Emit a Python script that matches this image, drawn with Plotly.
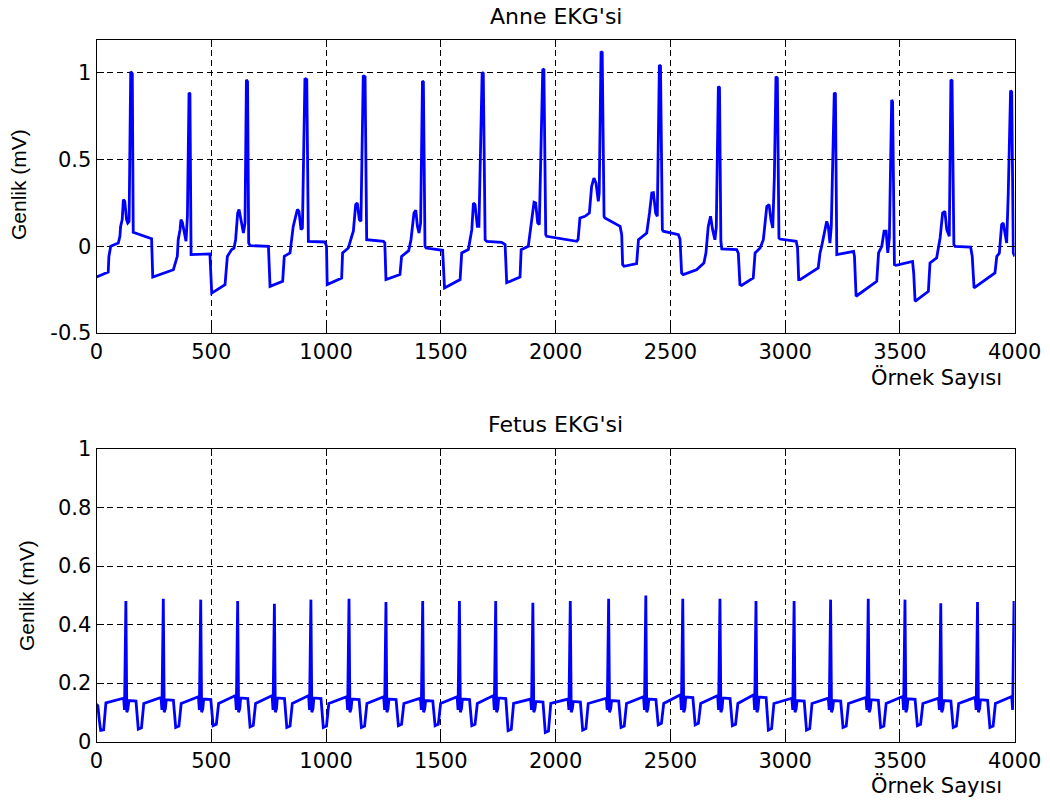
import plotly.graph_objects as go

# Maternal ECG: sample index / amplitude (mV) of the polyline vertices
anne_n = [
    0, 51, 54, 62, 95, 102, 105, 112, 117, 123, 131, 136, 142, 146, 149, 156, 158, 160,
    240, 245, 335, 342, 352, 356, 364, 368, 374, 383, 390, 396, 403, 407, 412,
    494, 502, 560, 564, 570, 589, 599, 606, 615, 621, 628, 640, 647, 653, 658, 663, 669,
    749, 756, 811, 818, 843, 857, 875, 882, 891, 897, 908, 916, 923,
    995, 1002, 1005, 1068, 1072, 1097, 1112, 1119, 1129, 1136, 1145, 1152, 1162, 1170, 1177,
    1250, 1256, 1261, 1322, 1329, 1360, 1370, 1383, 1391, 1398, 1405, 1412, 1420, 1424, 1431, 1436,
    1508, 1516, 1584, 1591, 1620, 1635, 1642, 1649, 1659, 1666, 1680, 1685, 1693, 1700,
    1765, 1780, 1787, 1845, 1850, 1881, 1893, 1906, 1913, 1922, 1929, 1944, 1949, 1957, 1961,
    2092, 2098, 2106, 2128, 2147, 2157, 2167, 2176, 2186, 2190, 2198, 2203, 2211, 2215,
    2281, 2288, 2292, 2298, 2353, 2361, 2397, 2409, 2419, 2426, 2436, 2443, 2452, 2457, 2465, 2469,
    2535, 2542, 2549, 2556, 2614, 2646, 2655, 2665, 2675, 2684, 2694, 2700, 2709, 2714, 2720, 2724,
    2789, 2796, 2803, 2810, 2861, 2869, 2891, 2905, 2920, 2930, 2938, 2946, 2953, 2960, 2966, 2973, 2977,
    3048, 3054, 3059, 3065, 3144, 3152, 3159, 3181, 3188, 3195, 3201, 3214, 3219, 3225,
    3298, 3302, 3309, 3399, 3407, 3421, 3431, 3440, 3447, 3454, 3464, 3468, 3476, 3483,
    3555, 3560, 3566, 3624, 3631, 3660, 3675, 3686, 3696, 3704, 3715, 3722, 3727, 3735, 3740,
    3808, 3815, 3823, 3914, 3922, 3933, 3943, 3950, 3957, 3965, 3972, 3982, 3987, 3994, 4000,
]
anne_mv = [
    -0.177, -0.148, -0.058, 0.000, 0.019, 0.058, 0.115, 0.154, 0.270, 0.260, 0.154, 0.135, 0.144, 0.520, 1.007, 0.995, 0.087, 0.081,
    0.044, -0.177, -0.135, -0.096, -0.058, 0.038, 0.096, 0.154, 0.138, 0.077, 0.029, 0.173, 0.886, 0.880, -0.048,
    -0.044, -0.270, -0.221, -0.135, -0.058, -0.019, -0.010, 0.038, 0.192, 0.212, 0.154, 0.077, 0.135, 0.960, 0.950, 0.019, 0.004,
    0.000, -0.231, -0.202, -0.058, -0.038, 0.115, 0.212, 0.202, 0.096, 0.106, 0.969, 0.962, 0.029,
    0.025, 0.000, -0.221, -0.183, -0.038, -0.010, 0.058, 0.087, 0.240, 0.250, 0.154, 0.144, 0.985, 0.978, 0.038,
    0.029, 0.020, -0.192, -0.163, -0.058, -0.025, 0.038, 0.192, 0.208, 0.115, 0.077, 0.135, 0.954, 0.948, 0.000, -0.010,
    -0.023, -0.240, -0.192, -0.038, -0.019, 0.096, 0.250, 0.240, 0.115, 0.115, 1.004, 0.998, 0.038, 0.029,
    0.023, 0.010, -0.210, -0.177, -0.019, 0.000, 0.125, 0.254, 0.250, 0.135, 0.125, 1.023, 1.018, 0.067, 0.058,
    0.029, 0.040, 0.163, 0.173, 0.192, 0.346, 0.394, 0.365, 0.260, 0.308, 1.123, 1.118, 0.173, 0.163,
    0.115, 0.067, -0.106, -0.115, -0.100, 0.038, 0.077, 0.192, 0.308, 0.310, 0.192, 0.173, 1.046, 1.040, 0.096, 0.087,
    0.067, 0.040, -0.154, -0.163, -0.135, -0.096, -0.038, 0.115, 0.173, 0.096, 0.038, 0.110, 0.921, 0.915, 0.029, -0.015,
    -0.019, -0.040, -0.221, -0.225, -0.183, -0.038, -0.010, 0.038, 0.230, 0.240, 0.154, 0.106, 0.400, 0.979, 0.970, 0.048, 0.042,
    0.029, -0.010, -0.192, -0.192, -0.125, -0.038, 0.000, 0.144, 0.115, 0.019, 0.115, 0.886, 0.880, -0.048,
    -0.029, -0.058, -0.288, -0.202, -0.038, 0.000, 0.087, 0.087, -0.038, 0.048, 0.844, 0.835, -0.106, -0.110,
    -0.087, -0.154, -0.317, -0.260, -0.096, -0.067, 0.048, 0.192, 0.202, 0.096, 0.058, 0.960, 0.955, 0.010, 0.000,
    -0.004, -0.058, -0.240, -0.154, -0.058, -0.040, 0.125, 0.135, 0.077, 0.019, 0.308, 0.898, 0.890, -0.038, -0.058,
]

# Fetal ECG: sample index / amplitude (mV) of the polyline vertices
fetus_n = [
    0, 6, 12, 18, 31, 36, 41,
    118, 122, 128, 132, 137, 141, 172, 177, 182, 196, 201, 206,
    281, 285, 291, 295, 300, 304, 335, 340, 345, 359, 364, 369,
    444, 448, 454, 458, 463, 467, 498, 503, 508, 522, 527, 532,
    605, 609, 615, 619, 624, 628, 659, 664, 669, 683, 688, 693,
    765, 769, 775, 779, 784, 788, 819, 824, 829, 843, 848, 853,
    924, 928, 934, 938, 943, 947, 978, 983, 988, 1002, 1007, 1012,
    1090, 1094, 1100, 1104, 1109, 1113, 1144, 1149, 1154, 1168, 1173, 1178,
    1251, 1255, 1261, 1265, 1270, 1274, 1305, 1310, 1315, 1329, 1334, 1339,
    1411, 1415, 1421, 1425, 1430, 1434, 1465, 1470, 1475, 1489, 1494, 1499,
    1571, 1575, 1581, 1585, 1590, 1594, 1625, 1630, 1635, 1649, 1654, 1659,
    1729, 1733, 1739, 1743, 1748, 1752, 1783, 1788, 1793, 1807, 1812, 1817,
    1891, 1895, 1901, 1905, 1910, 1914, 1945, 1950, 1955, 1969, 1974, 1979,
    2054, 2058, 2064, 2068, 2073, 2077, 2108, 2113, 2118, 2132, 2137, 2142,
    2221, 2225, 2231, 2235, 2240, 2244, 2275, 2280, 2285, 2299, 2304, 2309,
    2383, 2387, 2393, 2397, 2402, 2406, 2437, 2442, 2447, 2461, 2466, 2471,
    2544, 2548, 2554, 2558, 2563, 2567, 2598, 2603, 2608, 2622, 2627, 2632,
    2706, 2710, 2716, 2720, 2725, 2729, 2760, 2765, 2770, 2784, 2789, 2794,
    2863, 2867, 2873, 2877, 2882, 2886, 2917, 2922, 2927, 2941, 2946, 2951,
    3029, 3033, 3039, 3043, 3048, 3052, 3083, 3088, 3093, 3107, 3112, 3117,
    3188, 3192, 3198, 3202, 3207, 3211, 3242, 3247, 3252, 3266, 3271, 3276,
    3352, 3356, 3362, 3366, 3371, 3375, 3406, 3411, 3416, 3430, 3435, 3440,
    3512, 3516, 3522, 3526, 3531, 3535, 3566, 3571, 3576, 3590, 3595, 3600,
    3668, 3672, 3678, 3682, 3687, 3691, 3722, 3727, 3732, 3746, 3751, 3756,
    3828, 3832, 3838, 3842, 3847, 3851, 3882, 3887, 3892, 3906, 3911, 3916,
    3987, 3991, 3997, 4000,
]
fetus_mv = [
    0.128, 0.122, 0.075, 0.038, 0.040, 0.100, 0.132,
    0.148, 0.108, 0.480, 0.100, 0.112, 0.140, 0.138, 0.095, 0.042, 0.047, 0.100, 0.130,
    0.151, 0.108, 0.488, 0.100, 0.112, 0.143, 0.141, 0.095, 0.048, 0.053, 0.100, 0.130,
    0.153, 0.108, 0.485, 0.100, 0.112, 0.145, 0.143, 0.095, 0.054, 0.059, 0.100, 0.130,
    0.157, 0.108, 0.480, 0.100, 0.112, 0.149, 0.147, 0.095, 0.050, 0.055, 0.100, 0.130,
    0.157, 0.108, 0.471, 0.100, 0.112, 0.149, 0.147, 0.095, 0.048, 0.053, 0.100, 0.130,
    0.157, 0.108, 0.485, 0.100, 0.112, 0.149, 0.147, 0.095, 0.048, 0.053, 0.100, 0.130,
    0.153, 0.108, 0.488, 0.100, 0.112, 0.145, 0.143, 0.095, 0.048, 0.053, 0.100, 0.130,
    0.153, 0.108, 0.477, 0.100, 0.112, 0.145, 0.143, 0.095, 0.054, 0.059, 0.100, 0.130,
    0.148, 0.108, 0.480, 0.100, 0.112, 0.140, 0.138, 0.095, 0.054, 0.059, 0.100, 0.130,
    0.153, 0.108, 0.480, 0.100, 0.112, 0.145, 0.143, 0.095, 0.054, 0.059, 0.100, 0.130,
    0.157, 0.108, 0.480, 0.100, 0.112, 0.149, 0.147, 0.095, 0.037, 0.042, 0.100, 0.130,
    0.145, 0.108, 0.474, 0.100, 0.112, 0.137, 0.135, 0.095, 0.031, 0.036, 0.100, 0.130,
    0.145, 0.108, 0.480, 0.100, 0.112, 0.137, 0.135, 0.095, 0.039, 0.044, 0.100, 0.130,
    0.148, 0.108, 0.488, 0.100, 0.112, 0.140, 0.138, 0.095, 0.048, 0.053, 0.100, 0.130,
    0.153, 0.108, 0.499, 0.100, 0.112, 0.145, 0.143, 0.095, 0.057, 0.062, 0.100, 0.130,
    0.160, 0.108, 0.488, 0.100, 0.112, 0.152, 0.150, 0.095, 0.057, 0.062, 0.100, 0.130,
    0.157, 0.108, 0.488, 0.100, 0.112, 0.149, 0.147, 0.095, 0.054, 0.059, 0.100, 0.130,
    0.160, 0.108, 0.480, 0.100, 0.112, 0.152, 0.150, 0.095, 0.039, 0.044, 0.100, 0.130,
    0.148, 0.108, 0.480, 0.100, 0.112, 0.140, 0.138, 0.095, 0.039, 0.044, 0.100, 0.130,
    0.148, 0.108, 0.485, 0.100, 0.112, 0.140, 0.138, 0.095, 0.048, 0.053, 0.100, 0.130,
    0.151, 0.108, 0.488, 0.100, 0.112, 0.143, 0.141, 0.095, 0.048, 0.053, 0.100, 0.130,
    0.154, 0.108, 0.485, 0.100, 0.112, 0.146, 0.144, 0.095, 0.054, 0.059, 0.100, 0.130,
    0.148, 0.108, 0.473, 0.100, 0.112, 0.140, 0.138, 0.095, 0.048, 0.053, 0.100, 0.130,
    0.151, 0.108, 0.477, 0.100, 0.112, 0.143, 0.141, 0.095, 0.048, 0.053, 0.100, 0.130,
    0.154, 0.108, 0.480, 0.340,
]

x_ticks = [0, 500, 1000, 1500, 2000, 2500, 3000, 3500, 4000]
anne_ticks = [-0.5, 0, 0.5, 1]
anne_tick_text = ["-0.5", "0", "0.5", "1"]
fetus_ticks = [0, 0.2, 0.4, 0.6, 0.8, 1]
fetus_tick_text = ["0", "0.2", "0.4", "0.6", "0.8", "1"]

titles = ["Anne EKG'si", "Fetus EKG'si"]
x_label = "Örnek Sayısı"
y_label = "Genlik (mV)"

W, H = 1050, 801
TICK_FONT = dict(family="DejaVu Sans", size=21, color="black")
LINE = dict(color="#0000FF", width=2.8)

fig = go.Figure()
fig.add_trace(go.Scatter(x=anne_n, y=anne_mv, mode="lines", line=LINE,
                         xaxis="x", yaxis="y", showlegend=False, hoverinfo="skip"))
fig.add_trace(go.Scatter(x=fetus_n, y=fetus_mv, mode="lines", line=LINE,
                         xaxis="x2", yaxis="y2", showlegend=False, hoverinfo="skip"))

# Plot boxes in pixel coordinates (left, right, top, bottom)
x_left, x_right = 96.5, 1014.7
top_box = (40, 333)
bot_box = (449, 741.5)


def ydom(box):
    return [1 - box[1] / H, 1 - box[0] / H]


axis_common = dict(
    showline=True, linecolor="black", linewidth=1, mirror="ticks",
    ticks="inside", ticklen=7, tickcolor="black", tickwidth=1,
    showgrid=True, gridcolor="black", gridwidth=1, griddash="6px,4px",
    zeroline=False, tickfont=TICK_FONT, automargin=False,
)

fig.update_layout(
    width=W, height=H,
    margin=dict(l=0, r=0, t=0, b=0, pad=0),
    paper_bgcolor="white", plot_bgcolor="white",
    xaxis=dict(domain=[x_left / W, x_right / W], range=[0, 4000], tickvals=x_ticks,
               anchor="y", **axis_common),
    yaxis=dict(domain=ydom(top_box), range=[-0.5, 1.19], tickvals=anne_ticks,
               ticktext=anne_tick_text, anchor="x", **axis_common),
    xaxis2=dict(domain=[x_left / W, x_right / W], range=[0, 4000], tickvals=x_ticks,
                anchor="y2", **axis_common),
    yaxis2=dict(domain=ydom(bot_box), range=[0, 1], tickvals=fetus_ticks,
                ticktext=fetus_tick_text, anchor="x2", **axis_common),
)

title_font = dict(family="DejaVu Sans", size=22, color="black")
xlabel_font = dict(family="DejaVu Sans", size=21, color="black")
ylabel_font = dict(family="Liberation Sans, Arial", size=21, color="black")
cx = (x_left + x_right) / 2 / W

annotations = [
    dict(text=titles[0], x=cx, y=1 - 16 / H, font=title_font),
    dict(text=titles[1], x=cx, y=1 - 425 / H, font=title_font),
    dict(text=x_label, x=936 / W, y=1 - 377 / H, font=xlabel_font),
    dict(text=x_label, x=936 / W, y=1 - 785 / H, font=xlabel_font),
]
for a in annotations:
    fig.add_annotation(xref="paper", yref="paper", showarrow=False,
                       xanchor="center", yanchor="middle", **a)
for xpos, ypos in [(18, 185), (26, 596)]:
    fig.add_annotation(text=y_label, xref="paper", yref="paper", x=xpos / W, y=1 - ypos / H,
                       showarrow=False, textangle=-90, xanchor="center", yanchor="middle",
                       font=ylabel_font)

fig.write_html("out.html")
